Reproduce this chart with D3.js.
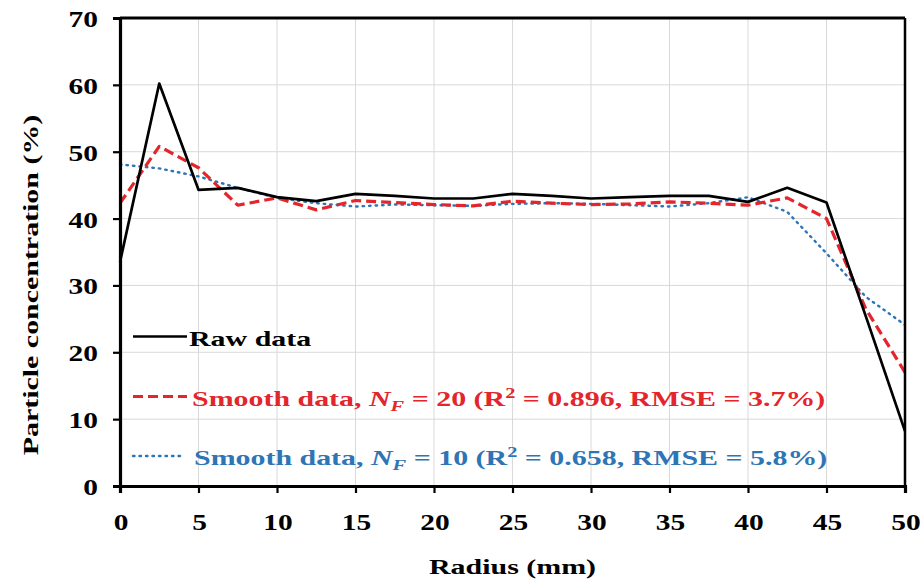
<!DOCTYPE html>
<html>
<head>
<meta charset="utf-8">
<script src="https://cdn.jsdelivr.net/npm/d3@7"></script>
<style>
    body { margin: 0; background: #fff; }
    text { font-family: "Liberation Serif", "Times New Roman", serif; font-weight: bold; }
</style>
</head>
<body>
<div id="chart"></div>
<script>
// data
let radius = [0, 2.5, 5, 7.5, 10, 12.5, 15, 17.5, 20, 22.5, 25, 27.5, 30, 32.5, 35, 37.5, 40, 42.5, 45, 47.5, 50];
let rawData = [33.5, 60.2, 44.3, 44.6, 43.2, 42.6, 43.7, 43.4, 43.0, 43.0, 43.7, 43.4, 43.0, 43.2, 43.4, 43.4, 42.5, 44.6, 42.4, 25.4, 8.2];
let smooth20 = [42.3, 50.8, 47.6, 42.0, 43.1, 41.3, 42.7, 42.4, 42.1, 41.9, 42.6, 42.3, 42.1, 42.2, 42.5, 42.3, 42.0, 43.1, 40.0, 26.5, 17.0];
let smooth10 = [48.1, 47.5, 46.3, 44.6, 43.1, 42.3, 41.8, 42.1, 42.0, 41.9, 42.2, 42.3, 42.2, 42.0, 41.8, 42.3, 43.2, 41.0, 34.8, 28.3, 24.1];
let xTicks = [0, 5, 10, 15, 20, 25, 30, 35, 40, 45, 50];
let yTicks = [0, 10, 20, 30, 40, 50, 60, 70];

let width = 922, height = 582;
let margin = {top: 18, right: 17, bottom: 96, left: 120};
let stretch = 1.36;   // the original font is drawn wide

let svg = d3.select("#chart").append("svg")
    .attr("width", width)
    .attr("height", height);

let x = d3.scaleLinear().domain([0, 50]).range([margin.left, width - margin.right]);
let y = d3.scaleLinear().domain([0, 70]).range([height - margin.bottom, margin.top]);

// grid
svg.append("g").selectAll("line.vgrid")
    .data(xTicks.slice(1, -1))
    .enter().append("line")
    .attr("x1", d => x(d)).attr("x2", d => x(d))
    .attr("y1", y(0)).attr("y2", y(70))
    .attr("stroke", "#d9d9d9").attr("stroke-width", 1);

svg.append("g").selectAll("line.hgrid")
    .data(yTicks.slice(1, -1))
    .enter().append("line")
    .attr("x1", x(0)).attr("x2", x(50))
    .attr("y1", d => y(d)).attr("y2", d => y(d))
    .attr("stroke", "#d9d9d9").attr("stroke-width", 1);

// series
let series = [
    {values: rawData, color: "#000000", width: 2.7, dash: null},
    {values: smooth20, color: "#e3262b", width: 3.2, dash: "10,5"},
    {values: smooth10, color: "#2e75b6", width: 2.4, dash: "1.5,5"}
];

let line = d3.line()
    .x((d, i) => x(radius[i]))
    .y(d => y(d));

// draw the smoothed ones first so the raw line sits on top like in the original
[series[2], series[1], series[0]].forEach(s => {
    svg.append("path")
        .datum(s.values)
        .attr("d", line)
        .attr("fill", "none")
        .attr("stroke", s.color)
        .attr("stroke-width", s.width)
        .attr("stroke-dasharray", s.dash)
        .attr("stroke-linecap", s.dash === "1.5,5" ? "round" : "butt")
        .attr("stroke-linejoin", "round");
});

// frame: top and right
svg.append("line")
    .attr("x1", x(0)).attr("x2", x(50))
    .attr("y1", y(70)).attr("y2", y(70))
    .attr("stroke", "black").attr("stroke-width", 3);
svg.append("line")
    .attr("x1", x(50)).attr("x2", x(50))
    .attr("y1", y(70)).attr("y2", y(0))
    .attr("stroke", "black").attr("stroke-width", 2.5);

// axes
let xAxis = svg.append("g")
    .attr("transform", `translate(0, ${y(0)})`)
    .call(d3.axisBottom(x).tickValues(xTicks).tickSize(7).tickFormat(""));
let yAxis = svg.append("g")
    .attr("transform", `translate(${x(0)}, 0)`)
    .call(d3.axisLeft(y).tickValues(yTicks).tickSize(7).tickFormat(""));

[xAxis, yAxis].forEach(ax => {
    ax.select(".domain").attr("stroke", "black").attr("stroke-width", 3.2);
    ax.selectAll(".tick line").attr("stroke", "black").attr("stroke-width", 2.2);
});

// tick labels (stretched horizontally)
svg.append("g").selectAll("text")
    .data(xTicks)
    .enter().append("text")
    .attr("transform", d => `translate(${x(d) + 1}, ${y(0) + 44}) scale(1.28, 1)`)
    .attr("text-anchor", "middle")
    .style("font-size", "23px")
    .text(d => d);

svg.append("g").selectAll("text")
    .data(yTicks)
    .enter().append("text")
    .attr("transform", d => `translate(${x(0) - 22}, ${y(d) + 9}) scale(1.28, 1)`)
    .attr("text-anchor", "end")
    .style("font-size", "23px")
    .text(d => d);

// axis titles
svg.append("text")
    .attr("transform", `translate(${(x(0) + x(50)) / 2}, 574) scale(${stretch}, 1)`)
    .attr("text-anchor", "middle")
    .style("font-size", "22px")
    .text("Radius (mm)");

svg.append("text")
    .attr("transform", `translate(38, 285) rotate(-90) scale(${stretch}, 1)`)
    .attr("text-anchor", "middle")
    .style("font-size", "22px")
    .text("Particle concentration (%)");

// legend, inside the plot, no box
let legend = svg.append("g").attr("class", "legend");
let legendRows = [
    {s: series[0], ly: 336.5, tx: 189, ty: 346, nf: null},
    {s: series[1], ly: 396.5, tx: 192, ty: 406, nf: {n: "20", r2: "0.896", rmse: "3.7%"}},
    {s: series[2], ly: 456, tx: 194, ty: 465, nf: {n: "10", r2: "0.658", rmse: "5.8%"}}
];

legendRows.forEach(row => {
    legend.append("line")
        .attr("x1", 133).attr("x2", row.nf && row.s.dash === "1.5,5" ? 180 : 187)
        .attr("y1", row.ly).attr("y2", row.ly)
        .attr("stroke", row.s.color)
        .attr("stroke-width", row.s.width)
        .attr("stroke-dasharray", row.s.dash)
        .attr("stroke-linecap", row.s.dash === "1.5,5" ? "round" : "butt");

    let t = legend.append("text")
        .attr("transform", `translate(${row.tx}, ${row.ty}) scale(${stretch}, 1)`)
        .attr("fill", row.s.color)
        .style("font-size", "22px");

    if (!row.nf) {
        t.text("Raw data");
        return;
    }
    t.append("tspan").text("Smooth data, ");
    t.append("tspan").style("font-style", "italic").text("N");
    t.append("tspan").style("font-style", "italic").style("font-size", "15px").attr("dy", 5).text("F");
    t.append("tspan").attr("dy", -5).text(` = ${row.nf.n} (R`);
    t.append("tspan").style("font-size", "15px").attr("dy", -8).text("2");
    t.append("tspan").attr("dy", 8).text(` = ${row.nf.r2}, RMSE = ${row.nf.rmse})`);
});
</script>
</body>
</html>
